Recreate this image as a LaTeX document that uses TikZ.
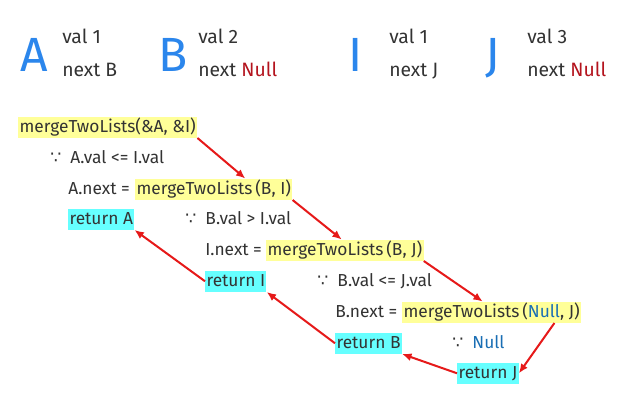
\documentclass[tikz,border=0pt]{standalone}
\usepackage{fontspec}
\setmainfont{Fira Sans}
\newfontfamily\symfont{DejaVu Sans}
\usetikzlibrary{arrows.meta,calc}
\definecolor{letterblue}{RGB}{43,134,236}
\definecolor{txtgray}{RGB}{51,51,51}
\definecolor{nullred}{RGB}{180,20,30}
\definecolor{nullblue}{RGB}{25,110,180}
\definecolor{hlyellow}{RGB}{255,255,153}
\definecolor{hlcyan}{RGB}{102,255,255}
\definecolor{arrowred}{RGB}{230,25,25}
\def\bec{{\symfont ∵}}

\begin{document}
\begin{tikzpicture}[x=0.75pt,y=-0.75pt,
    big/.style={font=\fontsize{36}{36}\selectfont, text=letterblue, anchor=base west, inner sep=0pt},
    info/.style={font=\fontsize{14.5}{14.5}\selectfont, text=txtgray, anchor=base west, inner sep=0pt},
    code/.style={font=\fontsize{13}{13}\selectfont, text=txtgray, anchor=base west, inner sep=0pt},
    call/.style={code, fill=hlyellow, inner xsep=1pt, text height=11.4pt, text depth=4.3pt},
    ret/.style={call, fill=hlcyan},
    link/.style={draw=arrowred, line width=1.5pt, -{Latex[length=7pt,width=6pt]}}]
  \fill[white] (0,0) rectangle (631,403);
  \useasboundingbox (0,0) rectangle (631,403);
  % the four list nodes
  \node[big] (A) at (20,72) {A};
  \node[info] (Aval) at (62,44) {val 1};
  \node[info] (Anext) at (62,76) {next B};
  \node[big] (B) at (158,72) {B};
  \node[info] (Bval) at (198,44) {val 2};
  \node[info] (Bnext) at (198,76) {next \textcolor{nullred}{Null}};
  \node[big] (I) at (348,72) {I};
  \node[info] (Ival) at (389,44) {val 1};
  \node[info] (Inext) at (389,76) {next J};
  \node[big] (J) at (485,72) {J};
  \node[info] (Jval) at (527,44) {val 3};
  \node[info] (Jnext) at (527,76) {next \textcolor{nullred}{Null}};
  % recursive calls
  \node[call] (c0) at (18,132) {mergeTwoLists(\&A, \&I)};
  \node[code] (w0) at (50,163) {\bec\ \ A.val <= I.val};
  \node[code] (n0) at (68,194) {A.next =};
  \node[call] (c1) at (135,194) {mergeTwoLists\,(B, I)};
  \node[ret] (r0) at (68,224) {return A};
  \node[code] (w1) at (185,224) {\bec\ \ B.val > I.val};
  \node[code] (n1) at (205,255) {I.next =};
  \node[call] (c2) at (266,255) {mergeTwoLists\,(B, J)};
  \node[ret] (r1) at (205,286) {return I};
  \node[code] (w2) at (317,286) {\bec\ \ B.val <= J.val};
  \node[code] (n2) at (335,317) {B.next =};
  \node[call] (c3) at (402,317) {mergeTwoLists\,(\textcolor{nullblue}{Null}, J)};
  \node[ret] (r2) at (335,348) {return B};
  \node[code] (w3) at (452,348) {\bec\ \ \textcolor{nullblue}{Null}};
  \node[ret] (r3) at (457,378) {return J};
  % call and return arrows
  \draw[link] (c0.south east) -- ($(c1.north west)!.7!(c1.north east)$);
  \draw[link] (c1.south east) -- ($(c2.north west)!.48!(c2.north east)$);
  \draw[link] (c2.south east) -- ($(c3.north west)!.45!(c3.north east)$);
  \draw[link] ($(c3.south west)!.85!(c3.south east)$) -- (r3.east);
  \draw[link] (r3.west) -- (r2.south east);
  \draw[link] (r2.west) -- (r1.south east);
  \draw[link] (r1.west) -- (r0.south east);
\end{tikzpicture}
\end{document}
